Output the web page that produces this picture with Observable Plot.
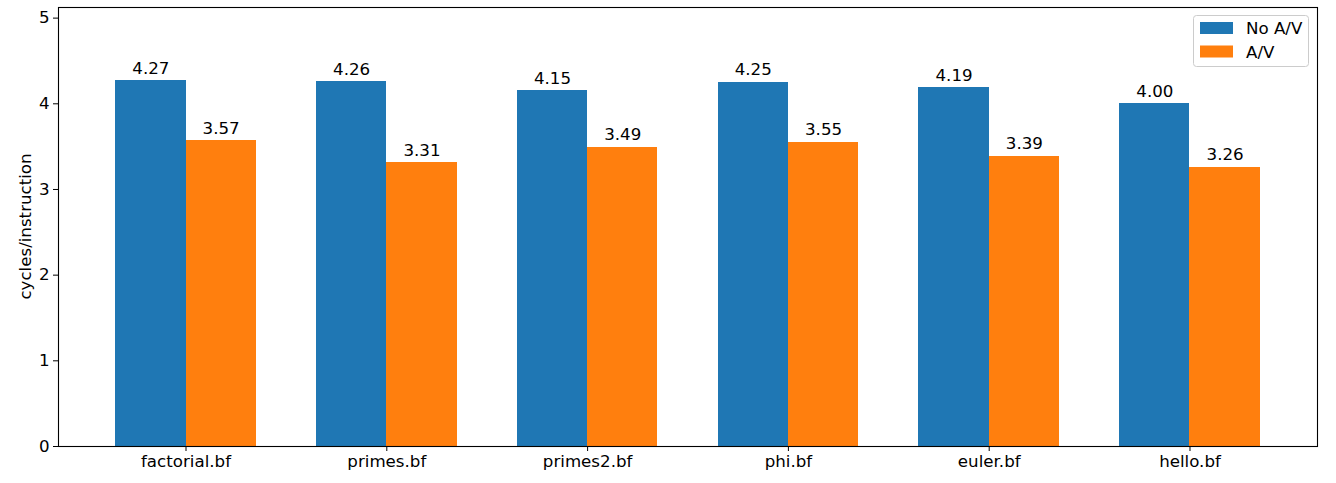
<!DOCTYPE html>
<html>
<head>
<meta charset="utf-8">
<script src="https://cdn.jsdelivr.net/npm/d3@7"></script>
<script src="https://cdn.jsdelivr.net/npm/@observablehq/plot@0.6"></script>
<style>
  html, body { margin: 0; padding: 0; background: #fff; }
  #chart svg { display: block; }
</style>
</head>
<body>
<div id="chart"></div>
<script>
const categories = ["factorial.bf", "primes.bf", "primes2.bf", "phi.bf", "euler.bf", "hello.bf"];
const seriesNames = ["No A/V", "A/V"];
const noAV = [4.27, 4.26, 4.15, 4.25, 4.19, 4.00];
const withAV = [3.57, 3.31, 3.49, 3.55, 3.39, 3.26];
const seriesColors = ["#1f77b4", "#ff7f0e"];
const yTicks = [0, 1, 2, 3, 4, 5];

const barWidth = 0.35;
const seriesValues = [noAV, withAV];
const rows = [];
categories.forEach((cat, i) => {
  seriesValues.forEach((vals, j) => {
    const x1 = i - barWidth + j * barWidth;
    rows.push({cat, series: seriesNames[j], value: vals[i], x1, x2: x1 + barWidth, xm: x1 + barWidth / 2});
  });
});

const W = 1336, H = 483;
const FONT = "DejaVu Sans, sans-serif";
const FS = 16.67;
const yMax = Math.max(...noAV, ...withAV) * 1.2;
const xPad = (categories.length - 1 + 2 * barWidth) * 0.05;

const plot = Plot.plot({
  width: W,
  height: H,
  marginLeft: 58,
  marginRight: 19,
  marginTop: 7,
  marginBottom: 37,
  style: {fontFamily: FONT, fontSize: FS + "px", color: "#000", background: "#fff"},
  x: {type: "linear", domain: [-barWidth - xPad, categories.length - 1 + barWidth + xPad]},
  y: {domain: [0, yMax]},
  color: {domain: seriesNames, range: seriesColors},
  marks: [
    Plot.rectY(rows, {x1: "x1", x2: "x2", y1: 0, y2: "value", fill: "series", inset: 0, shapeRendering: "crispEdges"}),
    Plot.text(rows, {x: "xm", y: "value", text: d => d.value.toFixed(2), lineAnchor: "bottom", dy: -7, fill: "#000", fontSize: FS}),
    Plot.axisX({ticks: categories.map((c, i) => i), tickFormat: i => categories[i], tickSize: 5, tickPadding: 4, label: null, stroke: "#000", fill: "#000", fontSize: FS}),
    Plot.axisY({ticks: yTicks, tickFormat: d => String(d), tickSize: 5, tickPadding: 4, label: null, stroke: "#000", fill: "#000", fontSize: FS}),
    Plot.frame({stroke: "#000", strokeWidth: 1.1})
  ]
});

document.getElementById("chart").appendChild(plot);

const svg = d3.select(plot);
// y axis label
svg.append("text")
  .attr("transform", `translate(31, ${(7 + (H - 37)) / 2}) rotate(-90)`)
  .attr("text-anchor", "middle")
  .attr("font-family", FONT)
  .attr("font-size", FS)
  .attr("fill", "#000")
  .text("cycles/instruction");

// legend
const color = plot.scale("color");
const lg = svg.append("g").attr("font-family", FONT).attr("font-size", FS).attr("text-anchor", "start");
lg.append("rect")
  .attr("x", 1193.5).attr("y", 15.5).attr("width", 115).attr("height", 51)
  .attr("rx", 3).attr("fill", "#fff").attr("fill-opacity", 0.8)
  .attr("stroke", "#cccccc").attr("stroke-width", 1);
seriesNames.forEach((name, k) => {
  const yTop = 22 + k * 23.5;
  lg.append("rect").attr("x", 1200).attr("y", yTop).attr("width", 33).attr("height", 12)
    .attr("fill", color.range[color.domain.indexOf(name)]);
  lg.append("text").attr("x", 1246).attr("y", yTop + 12).attr("text-anchor", "start").attr("fill", "#000").text(name);
});
</script>
</body>
</html>
